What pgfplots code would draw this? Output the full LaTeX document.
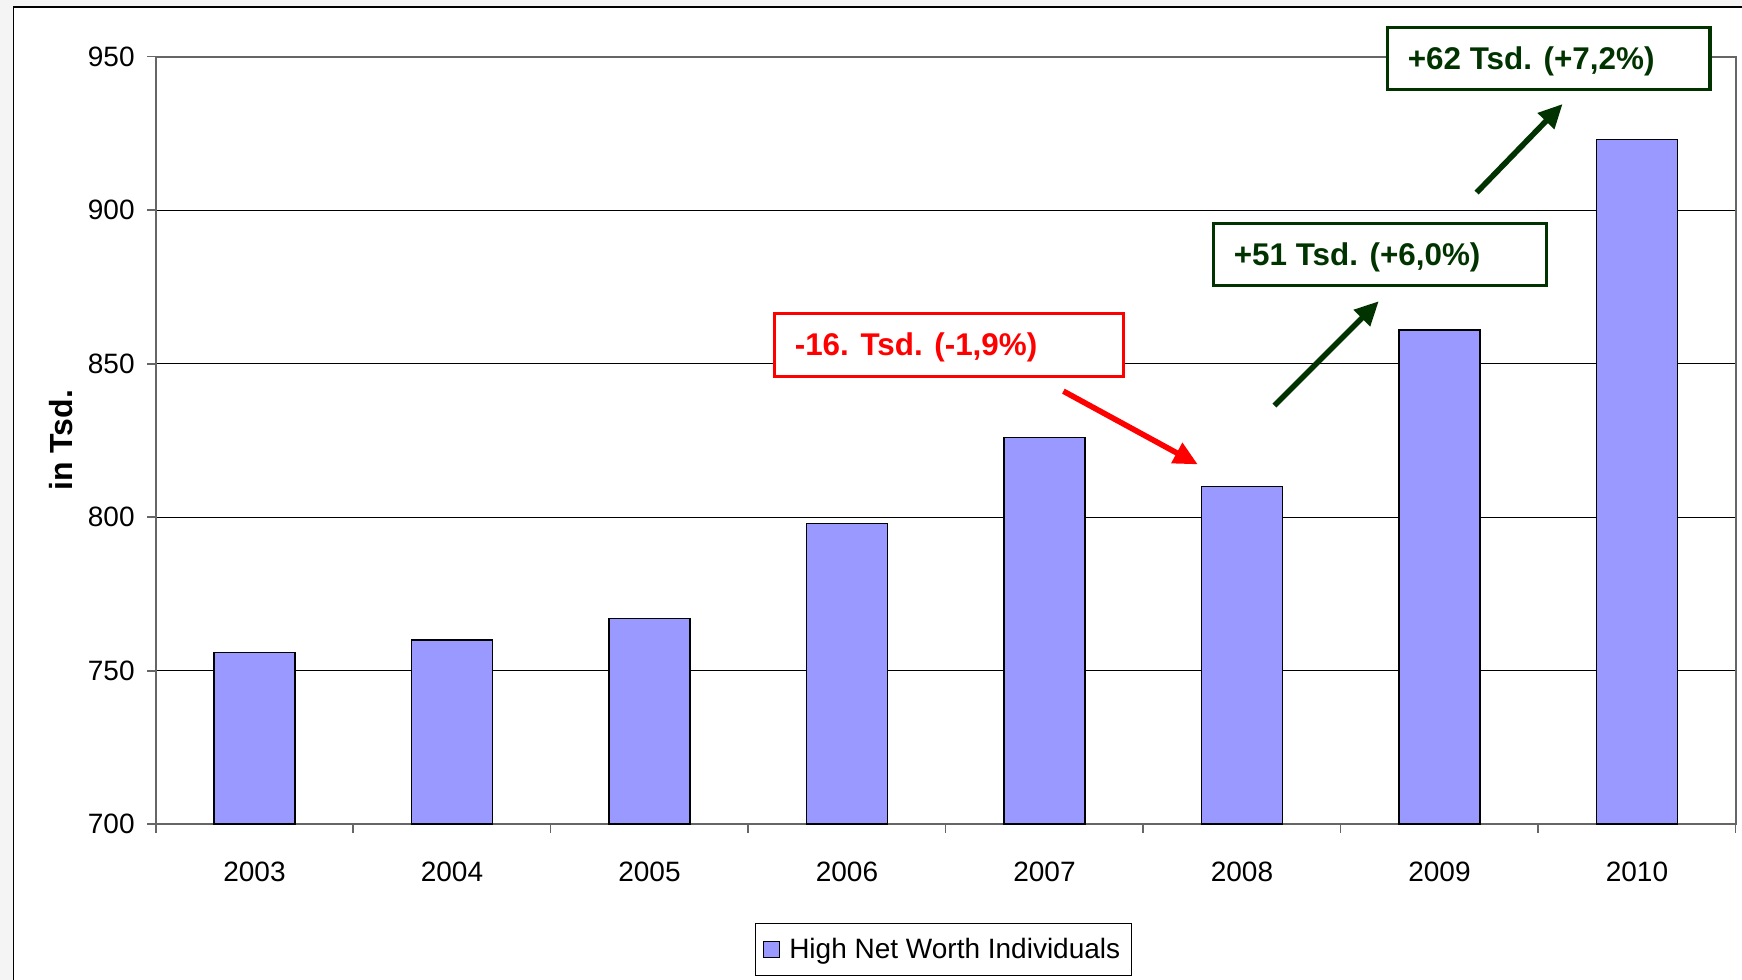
\documentclass[border=0pt]{standalone}
\usepackage{pgfplots}
\pgfplotsset{compat=1.18}
\usepackage{fontspec}
\setmainfont{Liberation Sans}
\usetikzlibrary{arrows.meta}
\definecolor{bgray}{RGB}{244,244,244}
\definecolor{barblue}{RGB}{153,153,255}
\definecolor{dkgreen}{RGB}{0,51,0}
\begin{document}
\begin{tikzpicture}[x=1pt,y=1pt]
\path[use as bounding box] (0,0) rectangle (871,490);
\clip (0,0) rectangle (871,490);
\fill[bgray] (0,0) rectangle (871,490);
\draw[fill=white, line width=0.6pt] (6.85,-10) rectangle (890,486.5);
\begin{axis}[
  at={(77.85pt,77.85pt)}, anchor=south west,
  scale only axis, width=790pt, height=383.8pt,
  xmin=-0.5, xmax=7.5, ymin=700, ymax=950,
  ytick={700,750,...,950},
  xtick={-0.5,0.5,...,7.5}, xticklabels={},
  extra x ticks={0,1,2,3,4,5,6,7},
  extra x tick labels={2003,2004,2005,2006,2007,2008,2009,2010},
  extra x tick style={major tick length=0pt, grid=none},
  xtick pos=bottom, ytick pos=left,
  tick align=outside, major tick length=4.2pt,
  tick style={draw=black!60, line width=0.8pt},
  axis line style={draw=black!60, line width=0.9pt},
  ymajorgrids, grid style={draw=black, line width=0.5pt},
  /pgf/number format/assume math mode=true,
  tick label style={font=\fontsize{14}{17}\selectfont},
  xticklabel style={yshift=-15.2pt},
  yticklabel style={xshift=-2.8pt},
  ylabel={\bfseries in Tsd.},
  every axis y label/.style={at={(axis description cs:-0.0598,0.5)}, rotate=90, anchor=center, font=\fontsize{16}{19}\selectfont},
  legend style={at={(axis description cs:0.4987,-0.163)}, anchor=center, draw=black, line width=0.5pt, font=\fontsize{14}{17}\selectfont, inner xsep=3.75pt, inner ysep=5.3pt},
  legend image code/.code={\draw[#1, line width=0.6pt] (0pt,-4pt) rectangle (8pt,4pt); \path[draw=none, fill=none] (0pt,0pt) -- (10.8pt,0pt);},
]
\addplot[ybar, bar width=40.4pt, fill=barblue, draw=black, line width=0.8pt]
  coordinates {(0,756) (1,760) (2,767) (3,798) (4,826) (5,810) (6,861) (7,923)};
\addlegendentry{High Net Worth Individuals}
\end{axis}
% annotations
\draw[red, line width=1.6pt, fill=white] (387.2,301.7) rectangle (561.7,333.3);
\node[anchor=west, text=red, font=\bfseries\fontsize{15.7}{19}\selectfont, inner sep=0] at (397.2,316.1) {-16. Tsd. (-1,9\%)};
\draw[red, line width=2.8pt, -{Triangle[length=12pt,width=11pt]}] (531.7,294.4) -- (598.9,257.8);
\draw[dkgreen, line width=1.7pt, fill=white] (606.7,347.2) rectangle (773.3,378.3);
\node[anchor=west, text=dkgreen, font=\bfseries\fontsize{15.7}{19}\selectfont, inner sep=0] at (616.7,361.3) {+51 Tsd. (+6,0\%)};
\draw[dkgreen, line width=2.8pt, -{Triangle[length=12pt,width=11pt]}] (637.2,287.2) -- (689.4,339.4);
\draw[dkgreen, line width=1.7pt, fill=white] (693.7,445.3) rectangle (855,476.3);
\node[anchor=west, text=dkgreen, font=\bfseries\fontsize{15.7}{19}\selectfont, inner sep=0] at (703.7,459.4) {+62 Tsd. (+7,2\%)};
\draw[dkgreen, line width=2.8pt, -{Triangle[length=12pt,width=11pt]}] (738.3,393.7) -- (781.3,438);
\end{tikzpicture}
\end{document}
